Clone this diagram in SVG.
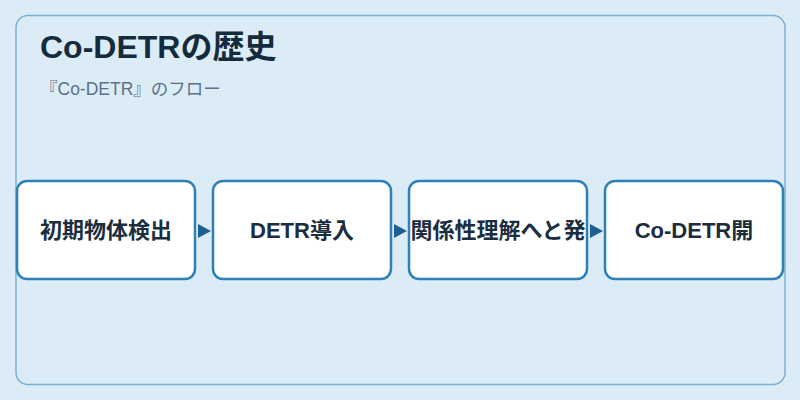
<svg xmlns="http://www.w3.org/2000/svg" width="800" height="400" viewBox="0 0 800 400">
<style>
.node rect{fill:#ffffff;stroke:#2e80b8;stroke-width:2.5}
.node text{font-family:"Liberation Sans","Noto Sans CJK JP",sans-serif;font-weight:bold;font-size:22px;fill:#1a2e40;text-anchor:middle}
.title{font-family:"Liberation Sans","Noto Sans CJK JP",sans-serif;font-weight:bold;font-size:32px;fill:#142b3d}
.sub{font-family:"Liberation Sans","Noto Sans CJK JP",sans-serif;font-size:17.5px;fill:#5a7189}
.arrow{fill:#1f5f8f}
</style>
<rect x="0" y="0" width="800" height="400" fill="#dcecf7"/>
<rect x="16" y="15.5" width="769" height="369" rx="12" fill="#dcecf7" stroke="#7ab0d0" stroke-width="1.5"/>
<text class="title" x="40" y="58">Co-DETRの歴史</text>
<text class="sub" x="40" y="95">『Co-DETR』のフロー</text>
<g id="connectors">
<polygon class="arrow" points="198,224 211,231 198,238"/>
<polygon class="arrow" points="394,224 407,231 394,238"/>
<polygon class="arrow" points="590,224 603,231 590,238"/>
</g>
<g id="n1" class="node"><rect x="17" y="181" width="178" height="98" rx="10"/><text x="106" y="238">初期物体検出</text></g>
<g id="n2" class="node"><rect x="213" y="181" width="178" height="98" rx="10"/><text x="302" y="238">DETR導入</text></g>
<g id="n3" class="node"><rect x="409" y="181" width="178" height="98" rx="10"/><text x="498" y="238">関係性理解へと発</text></g>
<g id="n4" class="node"><rect x="605" y="181" width="178" height="98" rx="10"/><text x="694" y="238">Co-DETR開</text></g>
</svg>
